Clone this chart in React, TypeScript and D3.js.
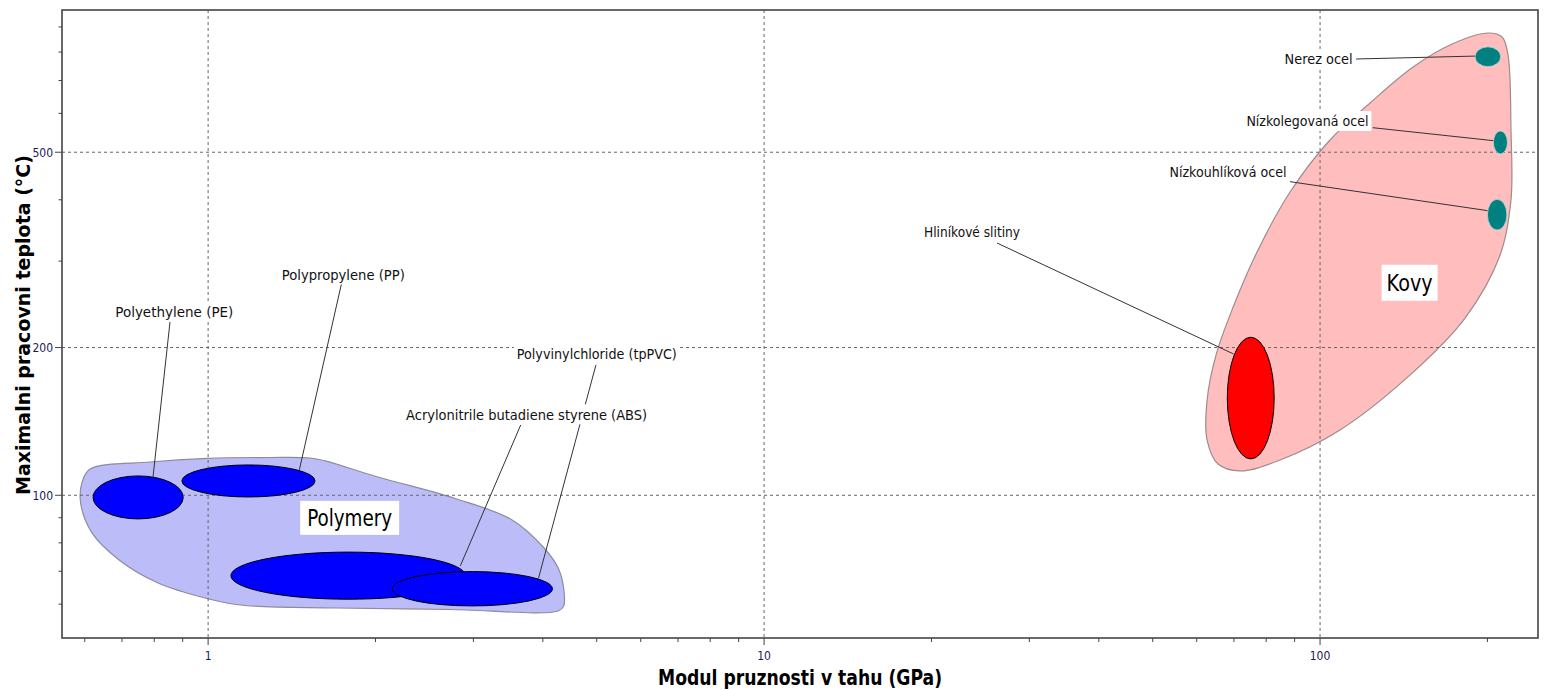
import React from 'react';
import * as d3 from 'd3';

// ---------- axis data ----------
const X_DOMAIN = [0.546, 246.6];
const Y_DOMAIN = [51.19, 974.5];
const X_MAJOR = [1, 10, 100];
const X_MAJOR_LABELS = ['1', '10', '100'];
const Y_MAJOR = [100, 200, 500];
const Y_MAJOR_LABELS = ['100', '200', '500'];
const X_TITLE = 'Modul pruznosti v tahu (GPa)';
const Y_TITLE = 'Maximalni pracovni teplota (°C)';

// ---------- material data (E in GPa, T in °C) ----------
const POLYMER_NAMES = [
  'Polyethylene (PE)',
  'Polypropylene (PP)',
  'Acrylonitrile butadiene styrene (ABS)',
  'Polyvinylchloride (tpPVC)',
];
const POLYMER_E = [[0.621, 0.902], [0.897, 1.557], [1.099, 2.903], [2.144, 4.162]];
const POLYMER_T = [[89.5, 109.5], [99.2, 115.3], [61.4, 76.6], [59.5, 69.9]];

const METAL_NAMES = ['Hliníkové slitiny', 'Nerez ocel', 'Nízkolegovaná ocel', 'Nízkouhlíková ocel'];
const METAL_E = [[68.1, 82.7], [190, 211.3], [205, 217.3], [200, 216.8]];
const METAL_T = [[118.6, 209.9], [747, 820], [496, 552.6], [347, 401]];

// envelope outlines (E, T)
const POLYMER_ENVELOPE = [
  [0.6135, 113.1], [0.7864, 116.9], [0.9959, 118.9], [1.293, 119.4], [1.526, 119.1],
  [1.623, 117.5], [2.005, 109.2], [2.782, 98.5], [3.522, 89.08], [4.005, 78.46],
  [4.262, 71.1], [4.36, 64.73], [4.36, 59.48], [4.262, 58.11], [2.724, 58.52],
  [1.706, 58.93], [1.142, 59.76], [0.9876, 61.76], [0.813, 66.27], [0.6916, 73.84],
  [0.6183, 83.81], [0.5898, 96.45], [0.5935, 106.4],
];
const METAL_ENVELOPE = [
  [200.6, 874.8], [212.5, 858.6], [217.8, 789.0], [220.5, 555.1], [220.5, 399.6],
  [210.8, 308.8], [182.3, 229.7], [145.2, 175.9], [108.6, 135.8], [84.77, 118.0],
  [71.79, 112.1], [65.55, 115.8], [62.64, 129.6], [62.64, 156.4], [65.01, 193.2],
  [69.78, 241.9], [77.03, 313.1], [88.31, 414.9], [104.2, 529.6], [123.0, 630.0],
  [147.0, 745.9], [172.8, 830.9],
];

// label anchors and leader lines (E, T)
const POLYMER_LABEL_AT = [[0.8694, 236.9], [1.751, 281.8], [3.740, 146.2], [5.002, 194.1]];
const POLYMER_LEADER_FROM = [[0.854, 225.5], [1.738, 270.4], [3.650, 139.1], [4.984, 184.3]];
const POLYMER_LEADER_TO = [[0.796, 109.0], [1.459, 112.6], [2.842, 71.8], [3.929, 67.8]];

const METAL_LABEL_AT = [[23.66, 344.0], [99.4, 774.5], [94.9, 578.9], [68.3, 455.8]];
const METAL_LEADER_FROM = [[26.24, 326.6], [116.1, 774.4], [124.4, 561], [88.3, 435.5]];
const METAL_LEADER_TO = [[69.85, 194.1], [190, 785], [205, 527.9], [200, 380.2]];

const GROUP_NAMES = ['Polymery', 'Kovy'];
const GROUP_AT = [[1.797, 89.95], [144.9, 271.0]];

// ---------- layout / style ----------
const W = 1544;
const H = 690;
const PLOT = { left: 62, right: 1538, top: 10, bottom: 638 };
const POLYMER_TEXT_W = [118, 123, 241, 160];
const METAL_TEXT_W = [96, 68, 122, 117];
const GROUP_TEXT_W = [85, 46];
const GROUP_BOX = [[99, 34], [56, 36]];
const FONT = "'DejaVu Sans Condensed', 'DejaVu Sans', sans-serif";

export default function App() {
  const x = d3.scaleLog().domain(X_DOMAIN).range([PLOT.left, PLOT.right]);
  const y = d3.scaleLog().domain(Y_DOMAIN).range([PLOT.bottom, PLOT.top]);

  const xMinor: number[] = [];
  const yMinor: number[] = [];
  for (const dec of [0.1, 1, 10, 100]) {
    for (let k = 1; k <= 9; k++) {
      const v = +(dec * k).toPrecision(6);
      if (v >= X_DOMAIN[0] && v <= X_DOMAIN[1] && !X_MAJOR.includes(v)) xMinor.push(v);
    }
  }
  for (const dec of [10, 100]) {
    for (let k = 1; k <= 9; k++) {
      const v = dec * k;
      if (v >= Y_DOMAIN[0] && v <= Y_DOMAIN[1] && !Y_MAJOR.includes(v)) yMinor.push(v);
    }
  }

  const envLine = d3
    .line<number[]>()
    .x((d) => x(d[0]))
    .y((d) => y(d[1]))
    .curve(d3.curveCatmullRomClosed.alpha(0.5));

  const ell = (E: number[], T: number[]) => {
    const x0 = x(E[0]), x1 = x(E[1]);
    const y0 = y(T[0]), y1 = y(T[1]);
    return { cx: (x0 + x1) / 2, cy: (y0 + y1) / 2, rx: Math.abs(x1 - x0) / 2, ry: Math.abs(y1 - y0) / 2 };
  };

  const label = (name: string, at: number[], w: number, key: string) => {
    const cx = x(at[0]);
    const cy = y(at[1]);
    return (
      <g key={key}>
        <rect x={cx - w / 2 - 3} y={cy - 10} width={w + 6} height={20} fill="#fff" />
        <text
          x={cx}
          y={cy + 5.2}
          textAnchor="middle"
          fontFamily={FONT}
          fontSize={14.5}
          fill="#111"
          textLength={w}
          lengthAdjust="spacingAndGlyphs"
        >
          {name}
        </text>
      </g>
    );
  };

  const leader = (from: number[], to: number[], key: string) => (
    <line key={key} x1={x(from[0])} y1={y(from[1])} x2={x(to[0])} y2={y(to[1])} stroke="#333" strokeWidth={1} />
  );

  return (
    <>
      <style>{`body{margin:0;overflow:hidden}`}</style>
      <svg width={W} height={H} style={{ display: 'block', background: '#fff' }}>
        {/* envelopes */}
        <path d={envLine(POLYMER_ENVELOPE) || ''} fill="#bcbcf9" stroke="#8c8c9c" strokeWidth={1.2} />
        <path d={envLine(METAL_ENVELOPE) || ''} fill="#ffbdbd" stroke="#9c8c8c" strokeWidth={1.2} />

        {/* grid */}
        {X_MAJOR.map((v) => (
          <line key={'gx' + v} x1={x(v)} x2={x(v)} y1={PLOT.top} y2={PLOT.bottom} stroke="#666" strokeDasharray="3,3" strokeWidth={1} />
        ))}
        {Y_MAJOR.map((v) => (
          <line key={'gy' + v} x1={PLOT.left} x2={PLOT.right} y1={y(v)} y2={y(v)} stroke="#666" strokeDasharray="3,3" strokeWidth={1} />
        ))}

        {/* material ellipses */}
        {POLYMER_NAMES.map((n, i) => {
          const e = ell(POLYMER_E[i], POLYMER_T[i]);
          return <ellipse key={'pe' + i} {...e} fill="#0000ff" stroke="#000" strokeWidth={1} />;
        })}
        {METAL_NAMES.map((n, i) => {
          const e = ell(METAL_E[i], METAL_T[i]);
          return i === 0 ? (
            <ellipse key={'me' + i} {...e} fill="#ff0000" stroke="#000" strokeWidth={1} />
          ) : (
            <ellipse key={'me' + i} {...e} fill="#008080" stroke="#bfdede" strokeWidth={0.8} />
          );
        })}

        {/* leader lines */}
        {POLYMER_NAMES.map((n, i) => leader(POLYMER_LEADER_FROM[i], POLYMER_LEADER_TO[i], 'pl' + i))}
        {METAL_NAMES.map((n, i) => leader(METAL_LEADER_FROM[i], METAL_LEADER_TO[i], 'ml' + i))}

        {/* labels */}
        {POLYMER_NAMES.map((n, i) => label(n, POLYMER_LABEL_AT[i], POLYMER_TEXT_W[i], 'pt' + i))}
        {METAL_NAMES.map((n, i) => label(n, METAL_LABEL_AT[i], METAL_TEXT_W[i], 'mt' + i))}

        {/* group labels */}
        {GROUP_NAMES.map((n, i) => {
          const cx = x(GROUP_AT[i][0]);
          const cy = y(GROUP_AT[i][1]);
          const [bw, bh] = GROUP_BOX[i];
          return (
            <g key={'g' + i}>
              <rect x={cx - bw / 2} y={cy - bh / 2} width={bw} height={bh} fill="#fff" />
              <text
                x={cx}
                y={cy + 8.5}
                textAnchor="middle"
                fontFamily={FONT}
                fontSize={23}
                fill="#000"
                textLength={GROUP_TEXT_W[i]}
                lengthAdjust="spacingAndGlyphs"
              >
                {n}
              </text>
            </g>
          );
        })}

        {/* frame */}
        <rect
          x={PLOT.left}
          y={PLOT.top}
          width={PLOT.right - PLOT.left}
          height={PLOT.bottom - PLOT.top}
          fill="none"
          stroke="#444"
          strokeWidth={1.6}
        />

        {/* x ticks */}
        {xMinor.map((v) => (
          <line key={'xm' + v} x1={x(v)} x2={x(v)} y1={PLOT.bottom} y2={PLOT.bottom + 4} stroke="#444" />
        ))}
        {X_MAJOR.map((v, i) => (
          <g key={'xM' + v}>
            <line x1={x(v)} x2={x(v)} y1={PLOT.bottom} y2={PLOT.bottom + 7} stroke="#444" />
            <text x={x(v)} y={660} textAnchor="middle" fontFamily={FONT} fontSize={12} fill="#1a1a55">
              {X_MAJOR_LABELS[i]}
            </text>
          </g>
        ))}

        {/* y ticks */}
        {yMinor.map((v) => (
          <line key={'ym' + v} x1={PLOT.left - 3.5} x2={PLOT.left} y1={y(v)} y2={y(v)} stroke="#444" />
        ))}
        {Y_MAJOR.map((v, i) => (
          <g key={'yM' + v}>
            <line x1={PLOT.left - 7} x2={PLOT.left} y1={y(v)} y2={y(v)} stroke="#444" />
            <text x={53} y={y(v) + 4.3} textAnchor="end" fontFamily={FONT} fontSize={12} fill="#1a1a55">
              {Y_MAJOR_LABELS[i]}
            </text>
          </g>
        ))}

        {/* titles */}
        <text
          x={800}
          y={685}
          textAnchor="middle"
          fontFamily={FONT}
          fontWeight="bold"
          fontSize={21}
          fill="#000"
          textLength={284}
          lengthAdjust="spacingAndGlyphs"
        >
          {X_TITLE}
        </text>
        <text
          transform="translate(30,325) rotate(-90)"
          textAnchor="middle"
          fontFamily={FONT}
          fontWeight="bold"
          fontSize={20}
          fill="#000"
          textLength={340}
          lengthAdjust="spacingAndGlyphs"
        >
          {Y_TITLE}
        </text>
      </svg>
    </>
  );
}
